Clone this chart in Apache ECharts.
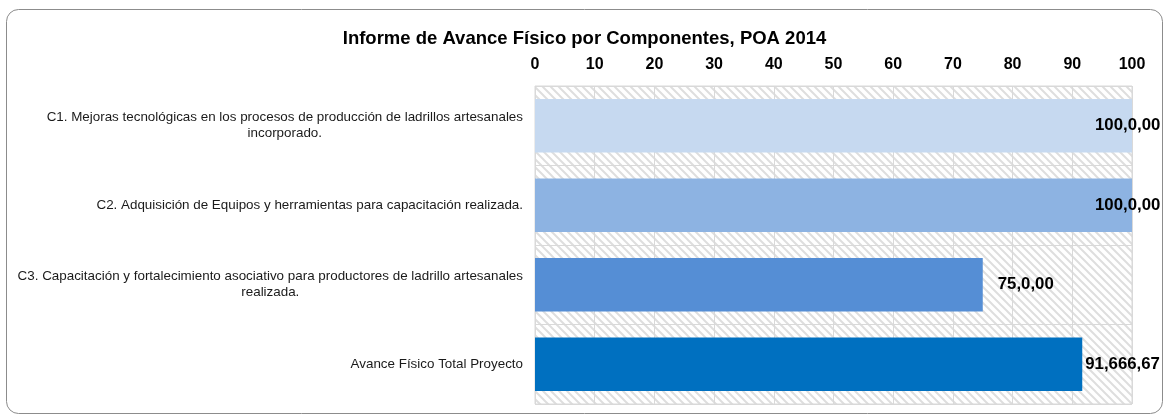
<!DOCTYPE html>
<html>
<head>
<meta charset="utf-8">
<script src="https://cdn.jsdelivr.net/npm/echarts@6/dist/echarts.min.js"></script>
<style>
  html, body { margin: 0; padding: 0; background: #fff; }
  #barChart { width: 1169px; height: 417px; }
</style>
</head>
<body>
<div id="barChart"></div>
<script>
// datos del grafico
const categories = [
  'C1. Mejoras tecnológicas en los procesos de producción de ladrillos artesanales\nincorporado.',
  'C2. Adquisición de Equipos y herramientas para capacitación realizada.',
  'C3. Capacitación y fortalecimiento asociativo para productores de ladrillo artesanales\nrealizada.',
  'Avance Físico Total Proyecto'
];
const avance = [100, 100, 75, 91.66667];
const valueLabels = ['100,0,00', '100,0,00', '75,0,00', '91,666,67'];
const barColors = ['#c6d9f0', '#8db3e2', '#558ed5', '#0070c0'];
const labelShift = [-42, -42, 10, -2];

// patron rayado del fondo
function hatch() {
  const c = document.createElement('canvas');
  c.width = 8; c.height = 8;
  const ctx = c.getContext('2d');
  ctx.fillStyle = '#ffffff';
  ctx.fillRect(0, 0, 8, 8);
  ctx.strokeStyle = '#dedede';
  ctx.lineWidth = 2;
  ctx.beginPath();
  ctx.moveTo(-2, -2); ctx.lineTo(10, 10);
  ctx.moveTo(-2, 6); ctx.lineTo(2, 10);
  ctx.moveTo(6, -2); ctx.lineTo(10, 2);
  ctx.stroke();
  return c;
}

let barChart = echarts.init(document.getElementById('barChart'));
barChart.setOption({
  animation: false,
  backgroundColor: '#fff',
  textStyle: { fontFamily: 'Liberation Sans, Arial, sans-serif' },
  graphic: [{
    type: 'rect',
    shape: { x: 6.5, y: 9.5, width: 1156, height: 404, r: 12 },
    style: { fill: 'none', stroke: '#8c8c8c', lineWidth: 1 },
    z: 0
  }],
  title: {
    text: 'Informe de Avance Físico por Componentes, POA 2014',
    left: 'center',
    top: 24,
    textStyle: {
      color: '#000',
      fontSize: 18.5,
      fontWeight: 'bold',
      fontFamily: 'Liberation Sans, Arial, sans-serif'
    }
  },
  grid: {
    left: 535,
    right: 37,
    top: 86,
    bottom: 13,
    show: true,
    backgroundColor: { image: hatch(), repeat: 'repeat' },
    borderColor: '#d9d9d9',
    borderWidth: 1
  },
  xAxis: {
    type: 'value',
    position: 'top',
    min: 0,
    max: 100,
    interval: 10,
    axisLine: { show: false },
    axisTick: { show: false },
    axisLabel: {
      color: '#000',
      fontSize: 16,
      fontWeight: 'bold',
      margin: 13
    },
    splitLine: { lineStyle: { color: '#d9d9d9', width: 1 } }
  },
  yAxis: {
    type: 'category',
    inverse: true,
    data: categories,
    axisLine: { show: false },
    axisTick: { show: false },
    splitLine: { show: true, lineStyle: { color: '#d9d9d9', width: 1 } },
    axisLabel: {
      color: '#1a1a1a',
      fontSize: 13.4,
      margin: 12,
      lineHeight: 16,
      formatter: function (v) {
        return v.split('\n').map(function (s) { return '{c|' + s + '}'; }).join('\n');
      },
      rich: { c: { align: 'center', fontSize: 13.4, lineHeight: 16, color: '#1a1a1a' } }
    }
  },
  series: [{
    type: 'bar',
    barCategoryGap: '33%',
    data: avance.map(function (v, i) {
      return {
        value: v,
        itemStyle: { color: barColors[i] },
        label: { offset: [labelShift[i], 0] }
      };
    }),
    label: {
      show: true,
      position: 'right',
      color: '#000',
      fontSize: 16.8,
      fontWeight: 'bold',
      formatter: function (p) { return valueLabels[p.dataIndex]; }
    }
  }]
});
window.addEventListener('resize', function () {
  barChart.resize();
});
</script>
</body>
</html>
